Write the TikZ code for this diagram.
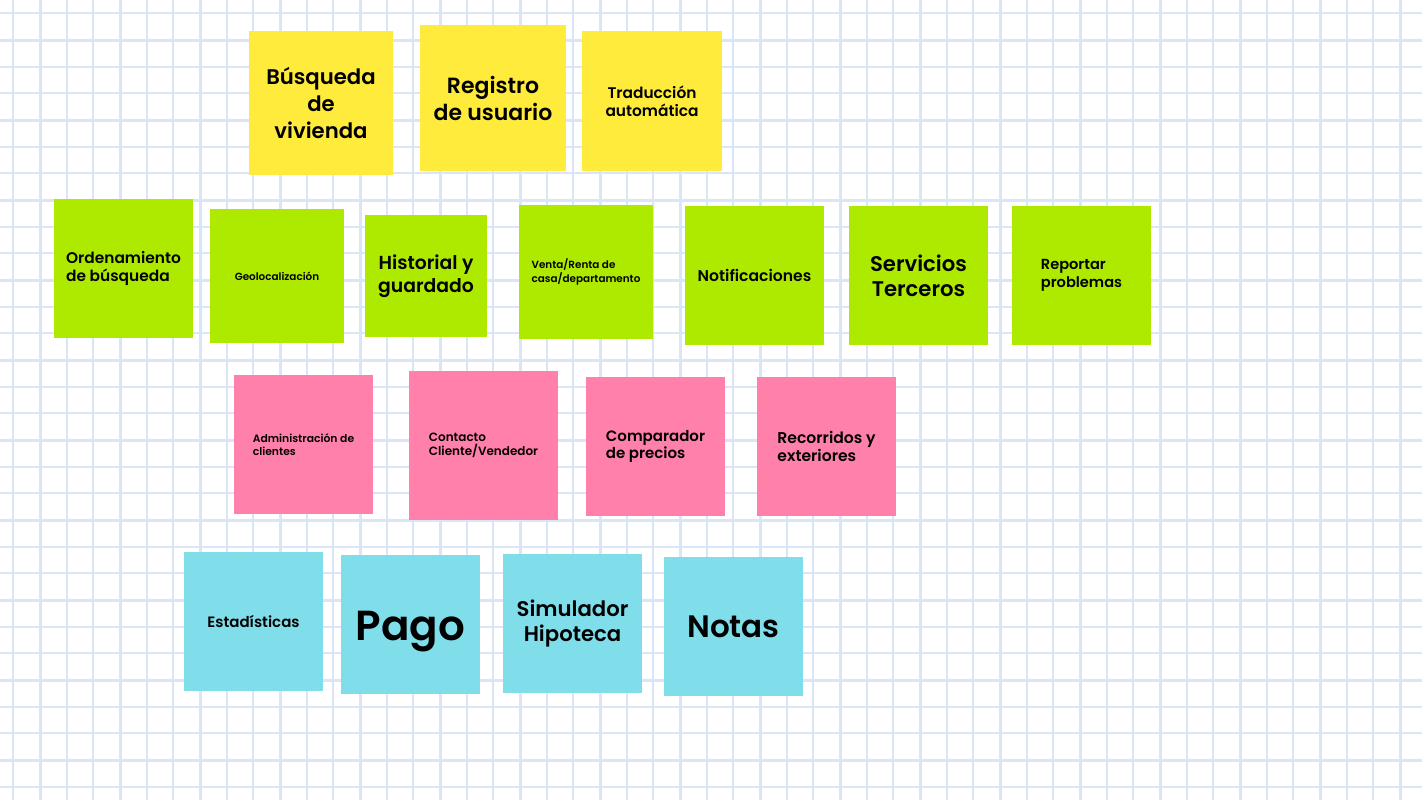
\documentclass[tikz,border=0pt]{standalone}
\usepackage{fontspec}
\setmainfont{Poppins}[BoldFont={Poppins SemiBold}]
\definecolor{gridblue}{RGB}{218,230,247}
\definecolor{postyellow}{RGB}{255,235,59}
\definecolor{postgreen}{RGB}{174,234,0}
\definecolor{postpink}{RGB}{255,128,171}
\definecolor{postcyan}{RGB}{128,222,234}
\newcommand{\fsz}[2]{\bfseries\fontsize{#1}{#2}\selectfont}
\tikzset{
  note/.style={minimum size=#1, inner sep=0pt, align=center},
  note/.default=69.5pt,
  yellownote/.style={note=#1, fill=postyellow},
  yellownote/.default=69.5pt,
  greennote/.style={note=#1, fill=postgreen},
  greennote/.default=69.5pt,
  pinknote/.style={note=#1, fill=postpink},
  pinknote/.default=69.5pt,
  cyannote/.style={note=#1, fill=postcyan},
  cyannote/.default=69.5pt,
  thinline/.style={gridblue, line width=1pt},
  thickline/.style={gridblue, line width=1.5pt}
}

\begin{document}
\begin{tikzpicture}[x=0.5pt, y=-0.5pt]
\useasboundingbox (0,0) rectangle (1422,800);
\fill[white] (0,0) rectangle (1422,800);

% squared paper
\foreach \i in {0,...,53} {
  \pgfmathsetmacro{\gx}{13.333+26.667*\i}
  \pgfmathtruncatemacro{\r}{mod(\i,3)}
  \ifnum\r=1 \draw[thickline] (\gx,0) -- (\gx,800);
  \else \draw[thinline] (\gx,0) -- (\gx,800); \fi
}
\foreach \j in {0,...,29} {
  \pgfmathsetmacro{\gy}{13.333+26.667*\j}
  \pgfmathtruncatemacro{\r}{mod(\j,3)}
  \ifnum\r=1 \draw[thickline] (0,\gy) -- (1422,\gy);
  \else \draw[thinline] (0,\gy) -- (1422,\gy); \fi
}

% yellow row
\node[yellownote=72pt, font=\fsz{10.6}{13.5}] (busqueda) at (321,103) {Búsqueda\\de\\vivienda};
\node[yellownote=73pt, font=\fsz{11}{13.5}] (registro) at (493,98) {Registro\\de usuario};
\node[yellownote=70pt, font=\fsz{7.7}{9}] (traduccion) at (652,101) {Traducción\\automática};

% green row
\node[greennote, align=left, font=\fsz{7.7}{8.8}] (ordenamiento) at (123.5,268.5) {Ordenamiento\\de búsqueda};
\node[greennote=67pt, font=\fsz{5.2}{7}] (geoloc) at (277,276) {Geolocalización};
\node[greennote=61pt, font=\fsz{9.4}{11.3}] (historial) at (426,276) {Historial y\\guardado};
\node[greennote=67pt, align=left, font=\fsz{5.2}{6.7}] (venta) at (586,272) {Venta/Renta de\\casa/departamento};
\node[greennote, font=\fsz{7.8}{10}] (notificaciones) at (754.5,275.5) {Notificaciones};
\node[greennote, font=\fsz{10.6}{12.5}] (servicios) at (918.5,275.5) {Servicios\\Terceros};
\node[greennote, align=left, font=\fsz{7.3}{8.8}] (reportar) at (1081.5,275.5) {Reportar\\problemas};

% pink row
\node[pinknote, align=left, font=\fsz{5.4}{6.2}] (administracion) at (303.5,444.5) {Administración de\\clientes};
\node[pinknote=74.5pt, align=left, font=\fsz{6}{7}] (contacto) at (483.5,445.5) {Contacto\\Cliente/Vendedor};
\node[pinknote, align=left, font=\fsz{7.5}{8.7}] (comparador) at (655.5,446.5) {Comparador\\de precios};
\node[pinknote, align=left, font=\fsz{7.8}{8.7}] (recorridos) at (826.5,446.5) {Recorridos y\\exteriores};

% cyan row
\node[cyannote, font=\fsz{7.5}{9}] (estadisticas) at (253.5,621.5) {Estadísticas};
\node[cyannote, font=\fsz{21}{24}] (pago) at (410.5,624.5) {\raisebox{-7.8pt}[0pt][0pt]{Pago}};
\node[cyannote, font=\fsz{10.6}{12.5}] (simulador) at (572.5,623.5) {Simulador\\Hipoteca};
\node[cyannote, font=\fsz{15.5}{19}] (notas) at (733.5,626.5) {Notas};
\end{tikzpicture}
\end{document}
